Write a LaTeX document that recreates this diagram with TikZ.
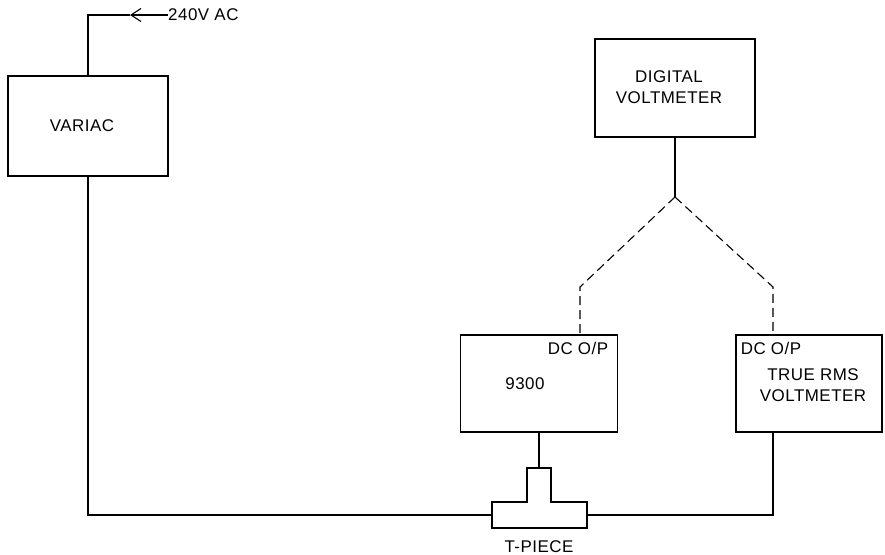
\documentclass[tikz,border=0pt]{standalone}
\usepackage{fontspec}
\setmainfont{Liberation Sans}[LetterSpace=3]
\usetikzlibrary{arrows.meta, positioning}
\tikzset{box/.style={rectangle,draw,line width=1.1bp,inner sep=0pt},
  wire/.style={line width=1.1bp},
  link/.style={line width=1.1bp,dash pattern=on 9bp off 5bp},
  lbl/.style={inner sep=0pt,align=center,font=\fontsize{17}{21}\selectfont}}

\begin{document}
\begin{tikzpicture}[x=1bp,y=-1bp]
\useasboundingbox (0,0) rectangle (885,555);
% boxes
\node[box,minimum width=160bp,minimum height=100bp] (variac) at (88,126) {};
\node[box,minimum width=160bp,minimum height=98bp] (dvm) at (675,88) {};
\node[box,minimum width=157bp,minimum height=97bp] (meter) at (539,383.5) {};
\node[box,minimum width=146bp,minimum height=97bp] (rms) at (809,383.5) {};
% labels
\node[lbl] (variactxt) at (82,126) {VARIAC};
\node[lbl] (dvmtxt) at (669,87) {DIGITAL\\VOLTMETER};
\node[lbl] (meterdc) at (578,348) {DC O/P};
\node[lbl] (metertxt) at (525,384) {9300};
\node[lbl] (rmsdc) at (771,348) {DC O/P};
\node[lbl] (rmstxt) at (813,385) {TRUE RMS\\VOLTMETER};
\node[lbl,anchor=west] (ac) at (168,15) {240V AC};
\node[lbl] (tlbl) at (539,547) {T-PIECE};
% T-piece
\coordinate (ttop) at (539,468);
\coordinate (tl) at (492,515);
\coordinate (tr) at (587,515);
\draw[wire] (492,528) -- (492,502) -- (527,502) -- (527,468) -- (551,468)
  -- (551,502) -- (587,502) -- (587,528) -- cycle;
% supply
\coordinate (tip) at (130,15);
\draw[wire,-{Straight Barb[length=10bp,width=13bp]}] (ac.west) -- (tip);
\draw[wire] (tip) -| (variac.north);
\draw[wire] (variac.south) |- (tl);
\draw[wire] (meter.south) -- (ttop);
% voltmeter leads
\coordinate (fork) at (675,197);
\coordinate (bendl) at (580,287);
\coordinate (bendr) at (773,287);
\draw[wire] (dvm.south) -- (fork);
\draw[link] (fork) -- (bendl) -- (bendl |- meter.north);
\draw[link] (fork) -- (bendr) -- (bendr |- rms.north);
\draw[wire] (bendr |- rms.south) |- (tr);
\end{tikzpicture}
\end{document}
